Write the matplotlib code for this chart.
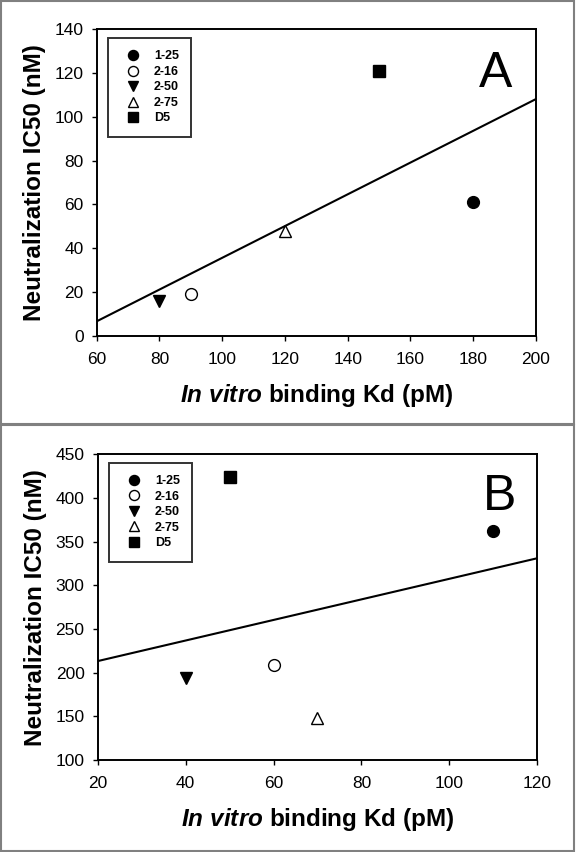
import numpy as np
import matplotlib
matplotlib.use("Agg")
import matplotlib.pyplot as plt
from matplotlib.patches import Rectangle

plt.rcParams['font.family'] = ['Liberation Sans', 'DejaVu Sans']
plt.rcParams['mathtext.fontset'] = 'custom'
plt.rcParams['mathtext.it'] = 'Liberation Sans:bold:italic'
plt.rcParams['mathtext.rm'] = 'Liberation Sans:bold'

labels = ["1-25", "2-16", "2-50", "2-75", "D5"]
markers = ["o", "o", "v", "^", "s"]
facecolors = ["black", "white", "black", "white", "black"]

# panel A
kd_a = [180, 90, 80, 120, 150]
ic50_a = [61, 19, 16, 48, 121]
# panel B
kd_b = [110, 60, 40, 70, 50]
ic50_b = [362, 209, 194, 148, 424]

fig = plt.figure(figsize=(5.76, 8.52), dpi=100)

# grey frames around the two panels
W, H = 576.0, 852.0
for (y0, y1) in [(1, 424.5), (424.5, 850.5)]:
    fig.add_artist(Rectangle((1 / W, 1 - y1 / H), 573 / W, (y1 - y0) / H,
                             transform=fig.transFigure, fill=False,
                             edgecolor="#808080", linewidth=1.5))


def panel(rect, kd, ic50, xlim, ylim, xticks, yticks, letter, letter_pos):
    ax = fig.add_axes(rect)
    for x, y, m, fc, lab in zip(kd, ic50, markers, facecolors, labels):
        ax.plot(x, y, linestyle="none", marker=m, markersize=8.5,
                markerfacecolor=fc, markeredgecolor="black",
                markeredgewidth=1.0, label=lab, zorder=3)
    # linear regression line over the full x range
    k, b = np.polyfit(kd, ic50, 1)
    xs = np.array(xlim, dtype=float)
    ax.plot(xs, k * xs + b, color="black", linewidth=1.5, zorder=2)

    ax.set_xlim(*xlim)
    ax.set_ylim(*ylim)
    ax.set_xticks(xticks)
    ax.set_yticks(yticks)
    for sp in ax.spines.values():
        sp.set_linewidth(1.4)
    ax.tick_params(direction="out", length=3.5, width=1.0, labelsize=12.5,
                   top=False, right=False)
    ax.tick_params(axis="x", pad=8)
    ax.tick_params(axis="y", pad=6)

    ax.set_xlabel(r"$\it{In\ vitro}$ binding Kd (pM)", fontsize=17.5,
                  fontweight="bold")
    ax.set_ylabel("Neutralization IC50 (nM)", fontsize=17.5, fontweight="bold")
    ax.yaxis.set_label_coords(-0.115, 0.5)
    ax.xaxis.set_label_coords(0.5, -0.15)

    ax.text(letter_pos[0], letter_pos[1], letter, transform=ax.transAxes,
            fontsize=36, ha="center", va="baseline")

    leg = ax.legend(loc="upper left", bbox_to_anchor=(0.025, 0.972),
                    borderaxespad=0, prop={"weight": "bold", "size": 9},
                    frameon=True, fancybox=False, edgecolor="black",
                    borderpad=1.0, handlelength=2.0, handletextpad=0.7,
                    labelspacing=0.28, markerscale=0.85, numpoints=1)
    leg.get_frame().set_linewidth(1.4)
    return ax


panel([96.7 / W, 1 - 335.7 / H, 439.3 / W, 306.4 / H], kd_a, ic50_a,
      (60, 200), (0, 140), range(60, 201, 20), range(0, 141, 20),
      "A", (0.909, 0.812))
panel([97.7 / W, 1 - 760 / H, 439.5 / W, 305.7 / H], kd_b, ic50_b,
      (20, 120), (100, 450), range(20, 121, 20), range(100, 451, 50),
      "B", (0.915, 0.818))

fig.savefig("out.png", dpi=100)
